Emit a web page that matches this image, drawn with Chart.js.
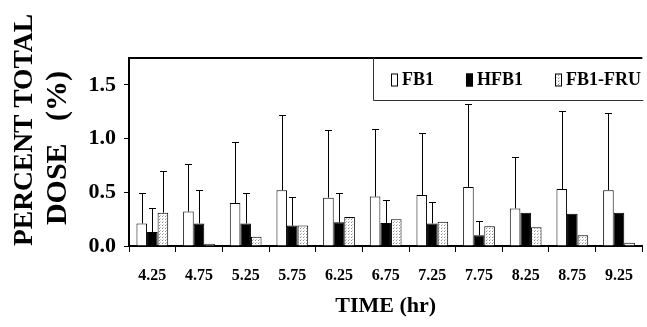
<!DOCTYPE html>
<html>
<head>
<meta charset="utf-8">
<script src="https://cdn.jsdelivr.net/npm/chart.js@4/dist/chart.umd.min.js"></script>
<style>
  html, body { margin: 0; padding: 0; background: #fff; }
  #wrap { width: 647px; height: 327px; position: relative; }
</style>
</head>
<body>
<div id="wrap"><canvas id="c" width="647" height="327"></canvas></div>
<script>
// ---- data ----
const categories = ['4.25', '4.75', '5.25', '5.75', '6.25', '6.75', '7.25', '7.75', '8.25', '8.75', '9.25'];
const seriesNames = ['FB1', 'HFB1', 'FB1-FRU'];
const fb1 = [0.21, 0.32, 0.40, 0.52, 0.45, 0.46, 0.475, 0.55, 0.35, 0.53, 0.52];
const hfb1 = [0.13, 0.21, 0.21, 0.19, 0.22, 0.215, 0.21, 0.10, 0.31, 0.30, 0.31];
const fb1Fru = [0.31, 0.02, 0.085, 0.19, 0.27, 0.25, 0.225, 0.185, 0.175, 0.10, 0.03];
const fb1Err = [0.28, 0.44, 0.565, 0.70, 0.63, 0.63, 0.575, 0.77, 0.475, 0.725, 0.72];
const hfb1Err = [0.22, 0.31, 0.28, 0.27, 0.27, 0.21, 0.20, 0.13, 0, 0, 0];
const fb1FruErr = [0.39, 0, 0, 0, 0, 0, 0, 0, 0, 0, 0];
const yTickValues = [0, 0.5, 1.0, 1.5];
const yMax = 1.75;
const yTitleLines = ['PERCENT TOTAL', 'DOSE   (%)'];
const xTitle = 'TIME (hr)';

const SERIF = '"Liberation Serif", "DejaVu Serif", serif';

// dotted pattern for FB1-FRU
function makePattern() {
  const p = document.createElement('canvas');
  p.width = 3; p.height = 3;
  const g = p.getContext('2d');
  g.fillStyle = '#ffffff';
  g.fillRect(0, 0, 3, 3);
  g.fillStyle = '#8a8a8a';
  g.fillRect(0, 0, 1, 1);
  g.fillStyle = '#c4c4c4';
  g.fillRect(1, 2, 1, 1);
  return document.getElementById('c').getContext('2d').createPattern(p, 'repeat');
}
const fruPattern = makePattern();

const errorSets = [fb1Err, hfb1Err, fb1FruErr];

const errorBarPlugin = {
  id: 'errorBars',
  afterDatasetsDraw(chart) {
    const ctx = chart.ctx;
    const yScale = chart.scales.y;
    ctx.save();
    ctx.strokeStyle = '#000';
    ctx.lineWidth = 1;
    chart.data.datasets.forEach((ds, i) => {
      const meta = chart.getDatasetMeta(i);
      const errs = errorSets[i];
      meta.data.forEach((bar, j) => {
        const e = errs[j];
        if (!e) return;
        const x = Math.round(bar.x) + 0.5;
        const yTop = Math.round(yScale.getPixelForValue(ds.data[j] + e)) + 0.5;
        const yBase = bar.y;
        ctx.beginPath();
        ctx.moveTo(x, yBase);
        ctx.lineTo(x, yTop);
        ctx.moveTo(x - 3.5, yTop);
        ctx.lineTo(x + 3.5, yTop);
        ctx.stroke();
      });
    });
    ctx.restore();
  }
};

const framePlugin = {
  id: 'frame',
  afterDraw(chart) {
    const ctx = chart.ctx;
    const a = chart.chartArea;
    ctx.save();
    // top border of plot
    ctx.strokeStyle = '#000';
    ctx.lineWidth = 2;
    ctx.beginPath();
    ctx.moveTo(a.left, a.top);
    ctx.lineTo(a.right, a.top);
    ctx.stroke();

    // legend box
    const boxL = 373.5, boxT = a.top, boxB = 100.5;
    ctx.lineWidth = 1;
    ctx.strokeStyle = '#333';
    ctx.beginPath();
    ctx.moveTo(a.right + 1, boxB);
    ctx.lineTo(boxL, boxB);
    ctx.lineTo(boxL, boxT);
    ctx.stroke();

    ctx.font = 'bold 18px ' + SERIF;
    ctx.textBaseline = 'middle';
    ctx.textAlign = 'left';
    let x = 391;
    const cy = 80;
    chart.data.datasets.forEach((ds) => {
      ctx.fillStyle = ds.backgroundColor;
      ctx.fillRect(x, cy - 6.5, 7, 13);
      ctx.strokeStyle = '#000';
      ctx.lineWidth = 1;
      ctx.strokeRect(x + 0.5, cy - 6.5 + 0.5, 6, 12);
      ctx.fillStyle = '#000';
      ctx.fillText(ds.label, x + 11, cy);
      x += 11 + ctx.measureText(ds.label).width + 32;
    });

    // y axis title (two rotated lines)
    const lines = [
      { text: yTitleLines[0], x: 25, y: 130, size: 27.5 },
      { text: yTitleLines[1], x: 58, y: 148, size: 30 }
    ];
    lines.forEach(l => {
      ctx.save();
      ctx.translate(l.x, l.y);
      ctx.rotate(-Math.PI / 2);
      ctx.font = 'bold ' + l.size + 'px ' + SERIF;
      ctx.textAlign = 'center';
      ctx.textBaseline = 'middle';
      ctx.fillStyle = '#000';
      ctx.fillText(l.text, 0, 0);
      ctx.restore();
    });
    ctx.restore();
  }
};

new Chart(document.getElementById('c'), {
  type: 'bar',
  data: {
    labels: categories,
    datasets: [
      { label: seriesNames[0], data: fb1, backgroundColor: '#ffffff', borderColor: '#000', borderWidth: 1 },
      { label: seriesNames[1], data: hfb1, backgroundColor: '#000000', borderColor: '#000', borderWidth: 1 },
      { label: seriesNames[2], data: fb1Fru, backgroundColor: fruPattern, borderColor: '#000', borderWidth: 1 }
    ]
  },
  options: {
    responsive: false,
    animation: false,
    devicePixelRatio: 1,
    layout: { padding: { top: 58, left: 0, right: 0, bottom: 0 } },
    datasets: { bar: { barPercentage: 1.0, categoryPercentage: 0.68 } },
    plugins: {
      legend: { display: false },
      tooltip: { enabled: false },
      title: { display: false }
    },
    scales: {
      x: {
        afterFit(scale) { scale.height = 81; },
        grid: { display: true, drawOnChartArea: false, drawTicks: true, tickLength: 6, color: '#000', offset: true },
        border: { display: true, color: '#000', width: 2 },
        ticks: { color: '#000', padding: 14, maxRotation: 0, font: { family: SERIF, size: 16, weight: 'bold' } },
        title: { display: true, text: xTitle, color: '#000', padding: { top: 0, bottom: 7 }, font: { family: SERIF, size: 22, weight: 'bold' } }
      },
      y: {
        min: 0,
        max: yMax,
        afterFit(scale) { scale.width = 129; },
        afterBuildTicks(scale) { scale.ticks = yTickValues.map(v => ({ value: v })); },
        grid: { display: true, drawOnChartArea: false, drawTicks: true, tickLength: 5, color: '#000' },
        border: { display: true, color: '#000', width: 2 },
        ticks: { color: '#000', padding: 8, font: { family: SERIF, size: 22, weight: 'bold' }, callback: (v) => Number(v).toFixed(1) }
      }
    }
  },
  plugins: [errorBarPlugin, framePlugin]
});
</script>
</body>
</html>
